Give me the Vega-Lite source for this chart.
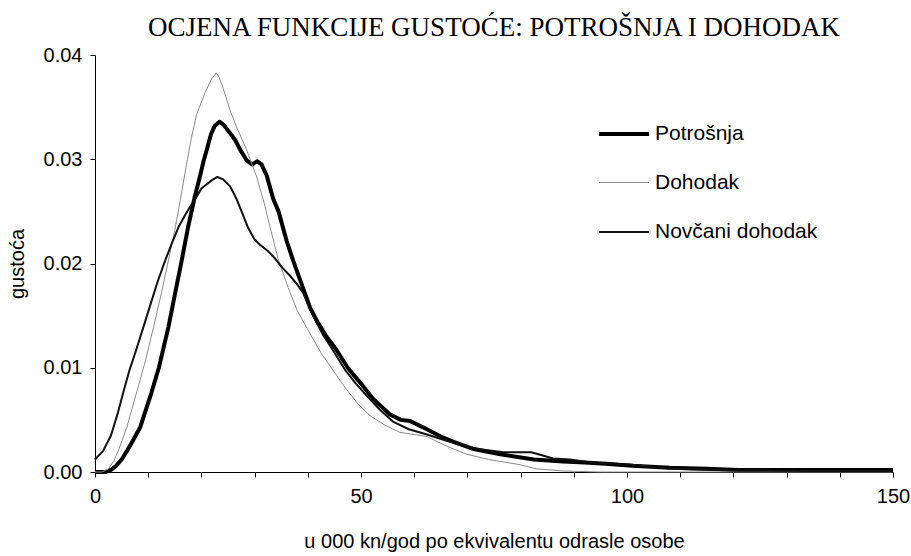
{
  "$schema": "https://vega.github.io/schema/vega-lite/v6.json",
  "width": 798,
  "height": 417,
  "autosize": {"type": "none"},
  "padding": {"left": 95, "top": 55, "right": 18, "bottom": 84},
  "background": "white",
  "title": {
    "text": "OCJENA FUNKCIJE GUSTOĆE: POTROŠNJA I DOHODAK",
    "font": "Liberation Serif",
    "fontSize": 27,
    "fontWeight": "normal",
    "color": "#000",
    "anchor": "middle",
    "offset": 3
  },
  "config": {
    "view": {"stroke": null},
    "axis": {
      "grid": false,
      "domainColor": "#000",
      "tickColor": "#000",
      "labelColor": "#000",
      "titleColor": "#000",
      "labelFont": "Liberation Sans",
      "titleFont": "Liberation Sans",
      "titleFontWeight": "normal",
      "labelFontSize": 20,
      "titleFontSize": 20
    },
    "legend": {
      "labelFont": "Liberation Sans",
      "labelFontSize": 21,
      "labelColor": "#000",
      "labelLimit": 0
    }
  },
  "data": {
    "values": [
      {"s": "Potrošnja", "x": 0, "y": 0},
      {"s": "Potrošnja", "x": 2, "y": 0},
      {"s": "Potrošnja", "x": 3, "y": 0.0002},
      {"s": "Potrošnja", "x": 4, "y": 0.0006},
      {"s": "Potrošnja", "x": 5, "y": 0.0012},
      {"s": "Potrošnja", "x": 6, "y": 0.002},
      {"s": "Potrošnja", "x": 7, "y": 0.0029},
      {"s": "Potrošnja", "x": 8.5, "y": 0.0043},
      {"s": "Potrošnja", "x": 10.6, "y": 0.0076},
      {"s": "Potrošnja", "x": 12, "y": 0.01},
      {"s": "Potrošnja", "x": 13.8, "y": 0.0139},
      {"s": "Potrošnja", "x": 15, "y": 0.017},
      {"s": "Potrošnja", "x": 16.3, "y": 0.0203},
      {"s": "Potrošnja", "x": 17.5, "y": 0.0235},
      {"s": "Potrošnja", "x": 18.8, "y": 0.0265},
      {"s": "Potrošnja", "x": 19.7, "y": 0.0283},
      {"s": "Potrošnja", "x": 20.4, "y": 0.0298},
      {"s": "Potrošnja", "x": 21, "y": 0.0309},
      {"s": "Potrošnja", "x": 21.8, "y": 0.0324},
      {"s": "Potrošnja", "x": 22.5, "y": 0.0332},
      {"s": "Potrošnja", "x": 23.4, "y": 0.0336},
      {"s": "Potrošnja", "x": 24.2, "y": 0.0333},
      {"s": "Potrošnja", "x": 25.4, "y": 0.0325},
      {"s": "Potrošnja", "x": 26.4, "y": 0.0318},
      {"s": "Potrošnja", "x": 27.3, "y": 0.0309},
      {"s": "Potrošnja", "x": 28.5, "y": 0.0299},
      {"s": "Potrošnja", "x": 29.5, "y": 0.0295},
      {"s": "Potrošnja", "x": 30.5, "y": 0.0298},
      {"s": "Potrošnja", "x": 31.3, "y": 0.0295},
      {"s": "Potrošnja", "x": 32.3, "y": 0.0284},
      {"s": "Potrošnja", "x": 33.5, "y": 0.0262},
      {"s": "Potrošnja", "x": 34.5, "y": 0.025},
      {"s": "Potrošnja", "x": 36, "y": 0.0222},
      {"s": "Potrošnja", "x": 37.3, "y": 0.0202},
      {"s": "Potrošnja", "x": 38.5, "y": 0.0185},
      {"s": "Potrošnja", "x": 40.4, "y": 0.0158},
      {"s": "Potrošnja", "x": 41.7, "y": 0.0145},
      {"s": "Potrošnja", "x": 43.5, "y": 0.013},
      {"s": "Potrošnja", "x": 45.4, "y": 0.0117},
      {"s": "Potrošnja", "x": 47.5, "y": 0.01},
      {"s": "Potrošnja", "x": 49.8, "y": 0.0086},
      {"s": "Potrošnja", "x": 52.3, "y": 0.007},
      {"s": "Potrošnja", "x": 55.5, "y": 0.0055},
      {"s": "Potrošnja", "x": 57.5, "y": 0.005},
      {"s": "Potrošnja", "x": 59.2, "y": 0.0049},
      {"s": "Potrošnja", "x": 62.4, "y": 0.0041},
      {"s": "Potrošnja", "x": 65, "y": 0.0034},
      {"s": "Potrošnja", "x": 67.4, "y": 0.0029},
      {"s": "Potrošnja", "x": 71.2, "y": 0.0022},
      {"s": "Potrošnja", "x": 76.2, "y": 0.0017},
      {"s": "Potrošnja", "x": 82.5, "y": 0.0012},
      {"s": "Potrošnja", "x": 88, "y": 0.001},
      {"s": "Potrošnja", "x": 92, "y": 0.0009},
      {"s": "Potrošnja", "x": 96, "y": 0.0008},
      {"s": "Potrošnja", "x": 101, "y": 0.0006},
      {"s": "Potrošnja", "x": 108, "y": 0.0004},
      {"s": "Potrošnja", "x": 115, "y": 0.0003},
      {"s": "Potrošnja", "x": 121, "y": 0.0002},
      {"s": "Potrošnja", "x": 135, "y": 0.0002},
      {"s": "Potrošnja", "x": 150, "y": 0.0002},

      {"s": "Dohodak", "x": 0, "y": 0},
      {"s": "Dohodak", "x": 1.3, "y": 0},
      {"s": "Dohodak", "x": 2.5, "y": 0.0003},
      {"s": "Dohodak", "x": 3.5, "y": 0.001},
      {"s": "Dohodak", "x": 4.5, "y": 0.0022},
      {"s": "Dohodak", "x": 6, "y": 0.0043},
      {"s": "Dohodak", "x": 7.8, "y": 0.0076},
      {"s": "Dohodak", "x": 9.5, "y": 0.0107},
      {"s": "Dohodak", "x": 11, "y": 0.0139},
      {"s": "Dohodak", "x": 12.5, "y": 0.0172},
      {"s": "Dohodak", "x": 13.8, "y": 0.0203},
      {"s": "Dohodak", "x": 15, "y": 0.0232},
      {"s": "Dohodak", "x": 16, "y": 0.026},
      {"s": "Dohodak", "x": 17.2, "y": 0.0295},
      {"s": "Dohodak", "x": 18.1, "y": 0.032},
      {"s": "Dohodak", "x": 19.1, "y": 0.0343},
      {"s": "Dohodak", "x": 20.7, "y": 0.0364},
      {"s": "Dohodak", "x": 21.8, "y": 0.0376},
      {"s": "Dohodak", "x": 22.8, "y": 0.0383},
      {"s": "Dohodak", "x": 23.4, "y": 0.0378},
      {"s": "Dohodak", "x": 24.1, "y": 0.0368},
      {"s": "Dohodak", "x": 25.4, "y": 0.0347},
      {"s": "Dohodak", "x": 26.6, "y": 0.0331},
      {"s": "Dohodak", "x": 28.5, "y": 0.0309},
      {"s": "Dohodak", "x": 30.4, "y": 0.0283},
      {"s": "Dohodak", "x": 31.8, "y": 0.0258},
      {"s": "Dohodak", "x": 32.9, "y": 0.0235},
      {"s": "Dohodak", "x": 34.5, "y": 0.0203},
      {"s": "Dohodak", "x": 36.3, "y": 0.0177},
      {"s": "Dohodak", "x": 38, "y": 0.0155},
      {"s": "Dohodak", "x": 40.4, "y": 0.0133},
      {"s": "Dohodak", "x": 42.5, "y": 0.0114},
      {"s": "Dohodak", "x": 45.1, "y": 0.0095},
      {"s": "Dohodak", "x": 47.3, "y": 0.0079},
      {"s": "Dohodak", "x": 49.5, "y": 0.0065},
      {"s": "Dohodak", "x": 51.7, "y": 0.0054},
      {"s": "Dohodak", "x": 54.5, "y": 0.0045},
      {"s": "Dohodak", "x": 57.3, "y": 0.0038},
      {"s": "Dohodak", "x": 60, "y": 0.0036},
      {"s": "Dohodak", "x": 62.4, "y": 0.0034},
      {"s": "Dohodak", "x": 66, "y": 0.0025},
      {"s": "Dohodak", "x": 69.9, "y": 0.0017},
      {"s": "Dohodak", "x": 74, "y": 0.0012},
      {"s": "Dohodak", "x": 79.9, "y": 0.0007},
      {"s": "Dohodak", "x": 83, "y": 0.0003},
      {"s": "Dohodak", "x": 88, "y": 0.0001},
      {"s": "Dohodak", "x": 95, "y": 0},
      {"s": "Dohodak", "x": 150, "y": 0},

      {"s": "Novčani dohodak", "x": 0, "y": 0.0012},
      {"s": "Novčani dohodak", "x": 1.5, "y": 0.002},
      {"s": "Novčani dohodak", "x": 3, "y": 0.0035},
      {"s": "Novčani dohodak", "x": 4.2, "y": 0.0055},
      {"s": "Novčani dohodak", "x": 5.3, "y": 0.0076},
      {"s": "Novčani dohodak", "x": 6.5, "y": 0.0098},
      {"s": "Novčani dohodak", "x": 7.8, "y": 0.0118},
      {"s": "Novčani dohodak", "x": 9.1, "y": 0.0139},
      {"s": "Novčani dohodak", "x": 10.5, "y": 0.0162},
      {"s": "Novčani dohodak", "x": 11.8, "y": 0.0183},
      {"s": "Novčani dohodak", "x": 13.2, "y": 0.0203},
      {"s": "Novčani dohodak", "x": 14.5, "y": 0.022},
      {"s": "Novčani dohodak", "x": 15.7, "y": 0.0235},
      {"s": "Novčani dohodak", "x": 17, "y": 0.0247},
      {"s": "Novčani dohodak", "x": 18.2, "y": 0.0257},
      {"s": "Novčani dohodak", "x": 19.1, "y": 0.0264},
      {"s": "Novčani dohodak", "x": 20, "y": 0.0272},
      {"s": "Novčani dohodak", "x": 21, "y": 0.0276},
      {"s": "Novčani dohodak", "x": 22, "y": 0.028},
      {"s": "Novčani dohodak", "x": 23, "y": 0.0283},
      {"s": "Novčani dohodak", "x": 24, "y": 0.0281},
      {"s": "Novčani dohodak", "x": 25.4, "y": 0.0274},
      {"s": "Novčani dohodak", "x": 26.6, "y": 0.0262},
      {"s": "Novčani dohodak", "x": 27.8, "y": 0.0247},
      {"s": "Novčani dohodak", "x": 28.8, "y": 0.0234},
      {"s": "Novčani dohodak", "x": 30, "y": 0.0223},
      {"s": "Novčani dohodak", "x": 31, "y": 0.0218},
      {"s": "Novčani dohodak", "x": 32.5, "y": 0.0212},
      {"s": "Novčani dohodak", "x": 33.8, "y": 0.0205},
      {"s": "Novčani dohodak", "x": 35.2, "y": 0.0196},
      {"s": "Novčani dohodak", "x": 36.7, "y": 0.0188},
      {"s": "Novčani dohodak", "x": 38, "y": 0.018},
      {"s": "Novčani dohodak", "x": 39.1, "y": 0.0172},
      {"s": "Novčani dohodak", "x": 41, "y": 0.015},
      {"s": "Novčani dohodak", "x": 42.8, "y": 0.0132},
      {"s": "Novčani dohodak", "x": 44.7, "y": 0.0117},
      {"s": "Novčani dohodak", "x": 47, "y": 0.0098},
      {"s": "Novčani dohodak", "x": 49, "y": 0.0085},
      {"s": "Novčani dohodak", "x": 51.1, "y": 0.0073},
      {"s": "Novčani dohodak", "x": 53.5, "y": 0.006},
      {"s": "Novčani dohodak", "x": 56.1, "y": 0.0048},
      {"s": "Novčani dohodak", "x": 59, "y": 0.0041},
      {"s": "Novčani dohodak", "x": 62.4, "y": 0.0036},
      {"s": "Novčani dohodak", "x": 65.5, "y": 0.0031},
      {"s": "Novčani dohodak", "x": 68.6, "y": 0.0026},
      {"s": "Novčani dohodak", "x": 72, "y": 0.0022},
      {"s": "Novčani dohodak", "x": 76.8, "y": 0.0019},
      {"s": "Novčani dohodak", "x": 82, "y": 0.0019},
      {"s": "Novčani dohodak", "x": 84, "y": 0.0016},
      {"s": "Novčani dohodak", "x": 86.1, "y": 0.0013},
      {"s": "Novčani dohodak", "x": 89.3, "y": 0.0012},
      {"s": "Novčani dohodak", "x": 93.6, "y": 0.0009},
      {"s": "Novčani dohodak", "x": 101, "y": 0.0007},
      {"s": "Novčani dohodak", "x": 108.6, "y": 0.0003},
      {"s": "Novčani dohodak", "x": 120.7, "y": 0.00015},
      {"s": "Novčani dohodak", "x": 135, "y": 0.0001},
      {"s": "Novčani dohodak", "x": 150, "y": 0.0001}
    ]
  },
  "mark": {"type": "line", "interpolate": "linear", "strokeJoin": "round"},
  "encoding": {
    "x": {
      "field": "x",
      "type": "quantitative",
      "scale": {"domain": [0, 150], "nice": false, "zero": true},
      "axis": {
        "title": "u 000 kn/god po ekvivalentu odrasle osobe",
        "values": [0, 10, 20, 30, 40, 50, 60, 70, 80, 90, 100, 110, 120, 130, 140, 150],
        "labelExpr": "datum.value % 50 === 0 ? datum.label : ''",
        "tickSize": 5,
        "labelPadding": 9,
        "titlePadding": 25,
        "labelFlush": false
      }
    },
    "y": {
      "field": "y",
      "type": "quantitative",
      "scale": {"domain": [0, 0.04], "nice": false},
      "axis": {
        "title": "gustoća",
        "values": [0, 0.01, 0.02, 0.03, 0.04],
        "format": ".2f",
        "tickSize": 5,
        "labelPadding": 8,
        "titlePadding": 16,
        "labelFlush": false
      }
    },
    "color": {
      "field": "s",
      "type": "nominal",
      "scale": {"domain": ["Potrošnja", "Dohodak", "Novčani dohodak"], "range": ["#000000", "#8a8a8a", "#111111"]},
      "legend": {
        "title": null,
        "orient": "none",
        "legendX": 502,
        "legendY": 52,
        "symbolType": "stroke",
        "symbolSize": 2500,
        "labelOffset": 4,
        "rowPadding": 13,
        "padding": 0,
        "labelLimit": 0
      }
    },
    "strokeWidth": {
      "field": "s",
      "type": "nominal",
      "scale": {"type": "ordinal", "domain": ["Potrošnja", "Dohodak", "Novčani dohodak"], "range": [4, 1, 2]},
      "legend": {
        "title": null,
        "orient": "none",
        "legendX": 502,
        "legendY": 52,
        "symbolType": "stroke",
        "symbolSize": 2500,
        "labelOffset": 4,
        "rowPadding": 13,
        "padding": 0,
        "labelLimit": 0
      }
    }
  }
}
